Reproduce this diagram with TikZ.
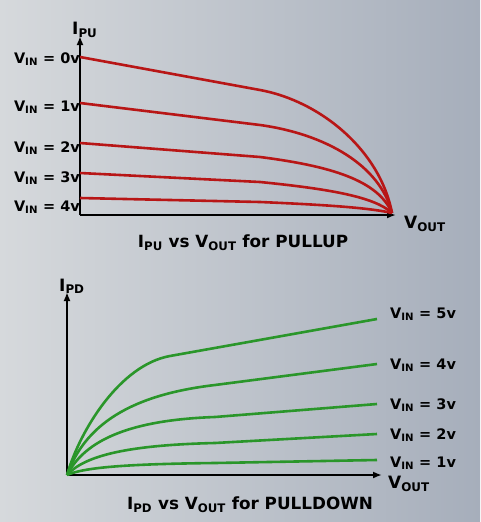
\documentclass[tikz,border=0pt]{standalone}
\usepackage{fontspec}
\setmainfont{DejaVu Sans}
\definecolor{c_red}{HTML}{B81616}
\definecolor{c_green}{HTML}{2A962A}
\definecolor{c_bgl}{HTML}{D6D9DC}
\definecolor{c_bgr}{HTML}{A6AEBB}
\usetikzlibrary{positioning,arrows.meta}

\begin{document}
\begin{tikzpicture}[
    x=1pt, y=-1pt,
    axis/.style={line width=2.4pt, -{Latex[length=9pt,width=7pt]}},
    pucurve/.style={draw=c_red, line width=2.6pt, line join=round},
    pdcurve/.style={draw=c_green, line width=2.6pt, line join=round},
    vlabel/.style={font=\bfseries\fontsize{14.5}{16}\selectfont, inner sep=1pt},
    axlabel/.style={font=\bfseries\fontsize{17}{19}\selectfont, inner sep=1pt},
    caption/.style={font=\bfseries\fontsize{16.8}{19}\selectfont}]

    \shade[left color=c_bgl, right color=c_bgr] (0,0) rectangle (480,522);
    \useasboundingbox (0,0) rectangle (480,522);

    % pullup graph
    \coordinate (o1) at (80,215);
    \coordinate (ytop1) at (80,36);
    \coordinate (xend1) at (396,215);
    \draw[axis] (o1) -- (ytop1);
    \draw[axis] (o1) -- (xend1);
    \node[axlabel, above right=-3pt and -9pt of ytop1] (ipu) {I\textsubscript{PU}};
    \node[axlabel, below right=0pt and 7pt of xend1] (vout1) {V\textsubscript{OUT}};

    \draw[pucurve] (80,57) -- (260,90) .. controls (320,101) and (380,150) .. (392,213);
    \draw[pucurve] (80,103) -- (260,125) .. controls (325,134) and (380,165) .. (392,213);
    \draw[pucurve] (80,143) -- (260,157) .. controls (330,166) and (378,180) .. (392,213);
    \draw[pucurve] (80,173) -- (260,182) .. controls (330,189) and (375,197) .. (392,213);
    \draw[pucurve] (80,198) -- (260,202) .. controls (330,205) and (370,208) .. (392,213);

    \node[vlabel, anchor=east] (vin0) at (81,59) {V\textsubscript{IN} = 0v};
    \node[vlabel, anchor=east] (vin1) at (81,107) {V\textsubscript{IN} = 1v};
    \node[vlabel, anchor=east] (vin2) at (81,148) {V\textsubscript{IN} = 2v};
    \node[vlabel, anchor=east] (vin3) at (81,178) {V\textsubscript{IN} = 3v};
    \node[vlabel, anchor=east] (vin4) at (81,207) {V\textsubscript{IN} = 4v};

    \node[caption] (cap1) at (243,243) {I\textsubscript{PU} vs V\textsubscript{OUT} for PULLUP};

    % pulldown graph
    \coordinate (o2) at (67,475);
    \coordinate (ytop2) at (67,292);
    \coordinate (xend2) at (382,475);
    \draw[axis] (o2) -- (ytop2);
    \draw[axis] (o2) -- (xend2);
    \node[axlabel, above right=-3pt and -9pt of ytop2] (ipd) {I\textsubscript{PD}};
    \node[axlabel, below right=0pt and 5pt of xend2] (vout2) {V\textsubscript{OUT}};

    \draw[pdcurve] (67,475) .. controls (80,430) and (120,365) .. (170,356) -- (377,319);
    \draw[pdcurve] (67,475) .. controls (85,425) and (130,395) .. (215,385) -- (377,364);
    \draw[pdcurve] (67,475) .. controls (85,440) and (130,420) .. (215,417) -- (377,404);
    \draw[pdcurve] (67,475) .. controls (85,455) and (130,445) .. (215,443) -- (377,434);
    \draw[pdcurve] (67,475) .. controls (85,467) and (130,464) .. (215,463) -- (377,460);

    \node[vlabel, anchor=west] (vin5b) at (389,314) {V\textsubscript{IN} = 5v};
    \node[vlabel, anchor=west] (vin4b) at (389,365) {V\textsubscript{IN} = 4v};
    \node[vlabel, anchor=west] (vin3b) at (389,405) {V\textsubscript{IN} = 3v};
    \node[vlabel, anchor=west] (vin2b) at (389,435) {V\textsubscript{IN} = 2v};
    \node[vlabel, anchor=west] (vin1b) at (389,463) {V\textsubscript{IN} = 1v};

    \node[caption] (cap2) at (250,505) {I\textsubscript{PD} vs V\textsubscript{OUT} for PULLDOWN};
\end{tikzpicture}
\end{document}
